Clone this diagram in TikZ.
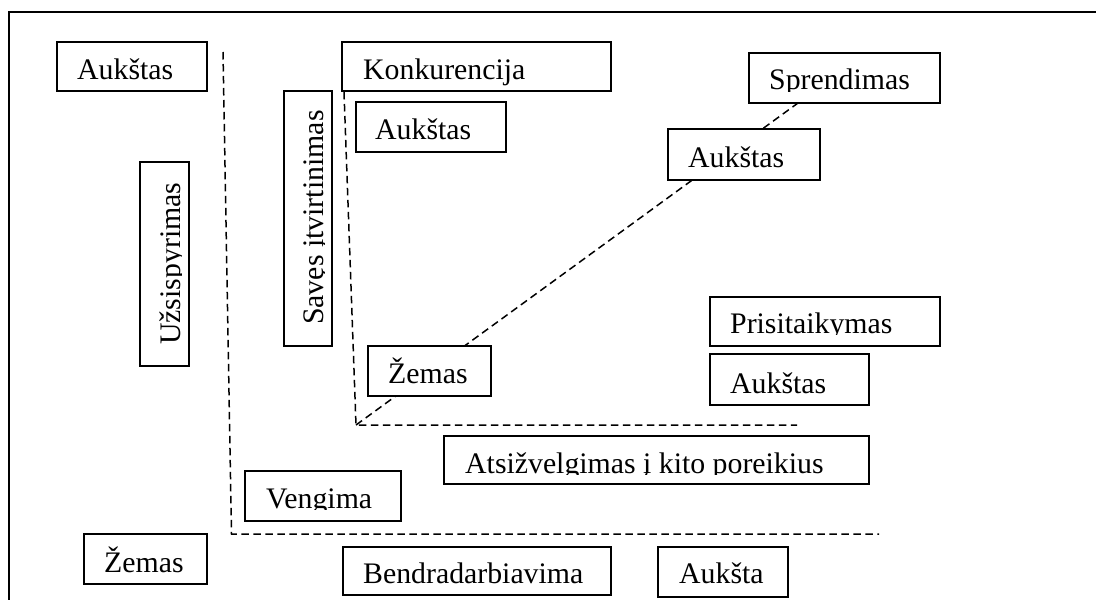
\documentclass[tikz,border=0pt]{standalone}
\usepackage{fontspec}
\setmainfont{Liberation Serif}
\usetikzlibrary{fit}
\tikzset{
  box/.style={draw, line width=1.7pt, fill=white, inner sep=0pt, rectangle},
  txt/.style={inner sep=0pt, font=\fontsize{29.8pt}{32pt}\selectfont},
  dline/.style={line width=1.5pt, dash pattern=on 7.5pt off 4.5pt},
  frameline/.style={line width=1.8pt}
}
% name, x1, y1, x2, y2, text x, baseline y, clip bottom y, text
\newcommand\tbx[9]{%
  \node[box, fit={(#2,#3) (#4,#5)}] (#1) {};
  \begin{scope}
    \clip (#2,#3) rectangle (#4,#8);
    \node[txt, anchor=base west] (#1t) at (#6,#7) {#9};
  \end{scope}}
\begin{document}
\begin{tikzpicture}[x=1pt, y=-1pt]
  \clip (0,0) rectangle (1096,600);
  \fill[white] (0,0) rectangle (1096,600);
  % outer frame (continues beyond the right and bottom edges)
  \draw[frameline] (1110,12) -- (9,12) -- (9,610);

  % dashed axes
  \coordinate (p1) at (223,52);
  \coordinate (p2) at (231.5,534);
  \coordinate (p3) at (879,534);
  \coordinate (q1) at (344,92);
  \coordinate (q2) at (356,425);
  \coordinate (q3) at (797,425);
  \coordinate (q4) at (798,103);
  \draw[dline] (p1) -- (p2) -- (p3);
  \draw[dline] (q1) -- (q2) -- (q3);
  \draw[dline] (q2) -- (q4);

  % boxes
  \tbx{a1}{57}{42}{207}{91}{77}{79}{91}{Aukštas}
  \tbx{konk}{342}{42}{611}{91}{363}{79}{91}{Konkurencija}
  \tbx{a2}{356}{102}{506}{152}{375}{139}{152}{Aukštas}
  \tbx{spr}{749}{53}{940}{103}{769}{89}{91}{Sprendimas}
  \tbx{a3}{668}{129}{820}{180}{688}{167}{180}{Aukštas}
  \tbx{zem1}{368}{346}{491}{396}{388}{383}{396}{Žemas}
  \tbx{pris}{710}{297}{940}{346}{730}{333}{334}{Prisitaikymas}
  \tbx{a4}{710}{354}{869}{405}{730}{393}{405}{Aukštas}
  \tbx{ats}{444}{436}{869}{484}{465}{473}{474}{Atsižvelgimas į kito poreikius}
  \tbx{veng}{245}{471}{401}{521}{266}{508}{509}{Vengima}
  \tbx{zem2}{84}{534}{207}{584}{104}{572}{584}{Žemas}
  \tbx{bendr}{343}{547}{611}{595}{363}{583}{595}{Bendradarbiavima}
  \tbx{a5}{658}{547}{788}{597}{679}{583}{597}{Aukšta}

  % vertical boxes
  \node[box, fit={(140,162) (189,366)}] (uz) {};
  \begin{scope}
    \clip (140,162) rectangle (181,366);
    \node[txt, rotate=90, anchor=base west] (uzt) at (180,345) {Užsispyrimas};
  \end{scope}
  \node[box, fit={(284,91) (332,346)}] (sav) {};
  \begin{scope}
    \clip (284,91) rectangle (324,346);
    \node[txt, rotate=90, anchor=base west] (savt) at (323,325) {Savęs įtvirtinimas};
  \end{scope}
\end{tikzpicture}
\end{document}
